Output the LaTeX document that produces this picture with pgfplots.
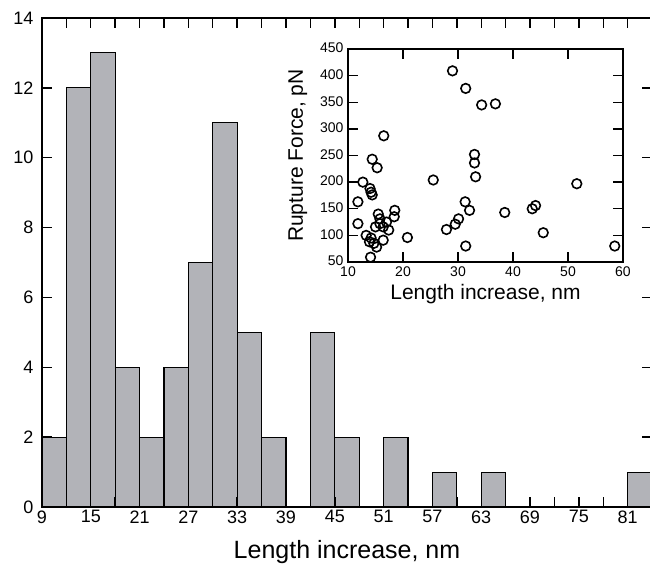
\documentclass[border=0pt]{standalone}
\usepackage{pgfplots}
\pgfplotsset{compat=1.18}
\usepackage{fontspec}
\setmainfont{Liberation Sans}
\definecolor{barg}{RGB}{178,179,184}

\begin{document}
\begin{tikzpicture}
% main histogram
\begin{axis}[
    name=main,
    scale only axis,
    width=610pt, height=489pt,
    xmin=9, xmax=84, ymin=0, ymax=14,
    xtick={9,15,...,81},
    minor xtick={12,18,...,84},
    ytick={0,2,...,14},
    tick align=inside,
    major tick length=10pt, minor tick length=10pt,
    every tick/.style={black, line width=1.4pt},
    axis line style={line width=2pt},
    axis on top,
    /pgf/number format/assume math mode=true,
    tick label style={font=\fontsize{18}{20}\selectfont},
    yticklabel style={xshift=-5pt},
    xlabel={Length increase, nm},
    xlabel style={font=\fontsize{25}{28}\selectfont, at={(axis description cs:0.5,-0.1063)}, anchor=base},
]
\addplot[ybar interval, fill=barg, draw=black, line width=1.1pt] coordinates {
    (9,2) (12,12) (15,13) (18,4) (21,2) (24,4) (27,7) (30,11) (33,5) (36,2)
    (39,0) (42,5) (45,2) (48,0) (51,2) (54,0) (57,1) (60,0) (63,1) (66,0)
    (69,0) (72,0) (75,0) (78,0) (81,1) (84,1)
};
\end{axis}
% inset scatter
\begin{axis}[
    at={(306pt,245pt)}, anchor=south west,
    scale only axis,
    width=275pt, height=213pt,
    xmin=10, xmax=60, ymin=50, ymax=450,
    xtick={10,20,...,60},
    ytick={50,100,...,450},
    tick align=inside,
    major tick length=10pt,
    every tick/.style={black, line width=1.4pt},
    axis line style={line width=1.8pt},
    /pgf/number format/assume math mode=true,
    tick label style={font=\fontsize{14}{16}\selectfont},
    xticklabel style={yshift=-1.5pt},
    yticklabel style={xshift=-1pt, yshift=1pt},
    xlabel={Length increase, nm},
    ylabel={Rupture Force, pN},
    xlabel style={font=\fontsize{21}{24}\selectfont, at={(axis description cs:0.5,-0.178)}, anchor=base},
    ylabel style={font=\fontsize{21}{24}\selectfont, at={(axis description cs:-0.164,0.5)}, anchor=base, rotate=0},
]
\addplot[only marks, mark=o, mark size=4.8pt, mark options={line width=1.6pt, black}] coordinates {
    (29.0,409) (31.4,376) (34.3,345) (36.8,347)
    (16.5,287) (14.4,243) (15.3,227) (12.7,200)
    (14.0,188) (14.2,181) (14.4,176)
    (11.8,163) (11.8,122) (25.5,204)
    (33.0,252) (33.0,236) (33.2,210)
    (31.3,163) (32.1,147) (30.1,131) (29.5,121) (27.9,111) (31.4,80)
    (38.5,143) (43.5,150) (44.1,156) (45.5,105) (51.6,197) (58.5,80)
    (18.5,147) (18.4,135) (20.8,96)
    (15.5,140) (13.3,100) (13.9,88) (14.1,59) (15.2,78) (16.4,91)
    (14.7,85) (15.0,116) (15.8,122) (16.4,116) (17.0,125) (17.4,110)
    (15.8,131) (14.2,95)
};
\end{axis}
\pgfresetboundingbox
\useasboundingbox (-42pt,-59pt) rectangle (608pt,507pt);
\end{tikzpicture}
\end{document}
